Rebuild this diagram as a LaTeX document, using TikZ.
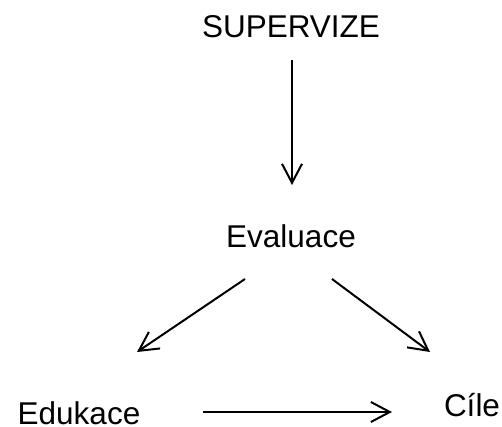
\documentclass[tikz,border=0pt]{standalone}
\usepackage{fontspec}
\setmainfont{Liberation Sans}
\usetikzlibrary{arrows.meta}
\begin{document}
\begin{tikzpicture}[x=1pt,y=-1pt,
  lbl/.style={inner sep=0pt,anchor=base,font=\fontsize{31.5}{36}\selectfont},
  arr/.style={line width=2pt,-{Straight Barb[length=19pt,width=20pt,line width=2pt]}}]
\useasboundingbox (0,0) rectangle (502,427);
\node[lbl] (sup) at (291,38) {SUPERVIZE};
\node[lbl] (eva) at (291,247) {Evaluace};
\node[lbl] (edu) at (79,424) {Edukace};
\node[lbl] (cil) at (472,416) {Cíle};
\draw[arr] ([xshift=1pt,yshift=-22pt]sup.base) -- ([xshift=1pt,yshift=62pt]eva.base);
\draw[arr] ([xshift=-46pt,yshift=-32pt]eva.base) -- ([xshift=58pt,yshift=72pt]edu.base);
\draw[arr] ([xshift=41pt,yshift=-32pt]eva.base) -- ([xshift=-42pt,yshift=64pt]cil.base);
\draw[arr] ([xshift=124pt,yshift=12pt]edu.base) -- ([xshift=-80pt,yshift=4pt]cil.base);
\end{tikzpicture}
\end{document}
